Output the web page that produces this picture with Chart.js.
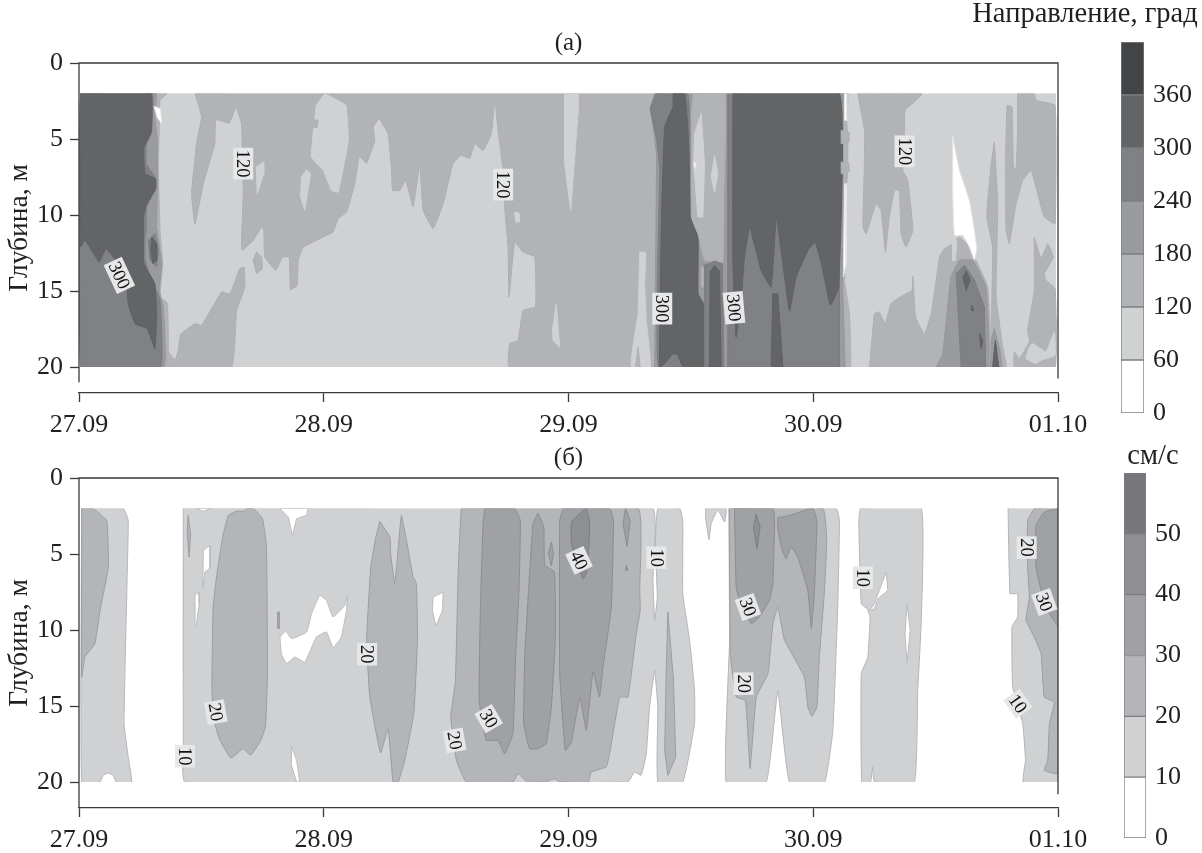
<!DOCTYPE html>
<html lang="ru">
<head>
<meta charset="utf-8">
<title>Направление и скорость течения</title>
<script src="https://cdn.jsdelivr.net/npm/chart.js@4/dist/chart.umd.min.js"></script>
<style>
  html, body { margin: 0; padding: 0; background: #fff; }
  body { position: relative; width: 1202px; height: 853px; overflow: hidden; }
  .box { position: absolute; }
</style>
</head>
<body>
<div class="box" style="left:0;top:0;width:1202px;height:445px"><canvas id="panelA"></canvas></div>
<div class="box" style="left:0;top:420px;width:1202px;height:433px"><canvas id="panelB"></canvas></div>
<div class="box" style="left:968px;top:0;width:234px;height:430px"><canvas id="barA"></canvas></div>
<div class="box" style="left:1104px;top:440px;width:98px;height:413px"><canvas id="barB"></canvas></div>
<script>
// Axis labels
const dayLabels = ['27.09', '28.09', '29.09', '30.09', '01.10'];
const panelTitles = ['(а)', '(б)'];

// Colour bar bands
const dirBands = [[0, 60], [60, 120], [120, 180], [180, 240], [240, 300], [300, 360], [360, 420]];
const speedBands = [[0, 10], [10, 20], [20, 30], [30, 40], [40, 50], [50, 60]];

// Contour regions, every point is [days since 27.09, depth in m]
// Panel (а), direction
const dirBase = [[0.007,2],[3.988,2],[3.988,20],[0.007,20]];
const dirLeft120 = [[0.361,2],[0.331,2.46],[0.328,4.43],[0.324,6.62],[0.331,11],[0.342,13.2],[0.331,15.4],[0.361,15.8],[0.365,18.9],[0.351,20],[0.007,20],[0.007,2]];
const dirLeft180 = [[0.317,2],[0.31,3.55],[0.32,5.09],[0.32,8.82],[0.317,11],[0.338,13.2],[0.328,14.96],[0.344,16.05],[0.347,20],[0.007,20],[0.007,2]];
const dirLeft240 = [[0.303,2],[0.297,4.43],[0.276,5.31],[0.274,6.62],[0.31,7.5],[0.31,8.38],[0.276,9.47],[0.274,13.2],[0.31,14.74],[0.331,15.6],[0.333,20],[0.007,20],[0.007,2]];
const dirLeft300 = [[0.007,2],[0.293,2],[0.294,4.65],[0.265,5.53],[0.269,7.28],[0.313,7.61],[0.313,8.27],[0.274,9.36],[0.263,10.13],[0.265,13.2],[0.31,14.52],[0.317,16.71],[0.31,18.79],[0.279,17.48],[0.229,17.15],[0.201,15.83],[0.195,14.52],[0.161,13.2],[0.11,12.21],[0.083,13.09],[0.052,12.32],[0.024,11.62],[0.007,12.1]];
const dirSpot180 = [[0.283,11],[0.317,10.9],[0.328,12.1],[0.324,13.64],[0.29,13.42],[0.274,12.98],[0.274,11.45]];
const dirSpot240 = [[0.283,11.67],[0.31,11.23],[0.324,12.32],[0.317,13.42],[0.29,12.98]];
const dirSpot300 = [[0.297,11.45],[0.317,11.89],[0.317,12.98],[0.301,13.2],[0.293,12.32]];
const dirGap1 = [[0.306,2.85],[0.333,3],[0.338,3.99],[0.32,3.6]];

const dirMain120 = [[0.474,2],[0.501,3.55],[0.48,5.31],[0.46,8.6],[0.474,10.61],[0.508,7.94],[0.555,5.31],[0.559,3.73],[0.614,3.95],[0.641,2.89],[0.664,3.99],[0.671,8.38],[0.664,11.89],[0.667,12.32],[0.712,11.67],[0.746,10.79],[0.755,11.01],[0.759,12.76],[0.804,13.64],[0.832,12.76],[0.859,12.76],[0.864,14.91],[0.891,14.63],[0.896,12.98],[0.916,12.11],[1.038,11.12],[1.059,10.24],[1.093,9.8],[1.127,7.94],[1.145,6.14],[1.175,6.58],[1.209,5.09],[1.202,4.21],[1.226,3.66],[1.263,4.65],[1.277,7.06],[1.281,8.38],[1.311,8.38],[1.335,7.72],[1.365,9.47],[1.392,6.73],[1.406,9.69],[1.447,10.9],[1.488,9.25],[1.528,6.62],[1.562,6.07],[1.596,6.29],[1.617,5.31],[1.651,5.75],[1.685,4.65],[1.699,2.35],[1.712,4.43],[1.733,7.06],[1.739,9.47],[1.753,12.11],[1.757,15.39],[1.78,11.78],[1.814,12.43],[1.862,12.76],[1.865,16.05],[1.814,16.27],[1.794,18.25],[1.76,18.46],[1.757,20],[2.359,20],[2.359,2]];
const dirIsle1 = [[1.004,2.02],[0.97,2.79],[0.95,6.18],[0.998,7.06],[1.032,8.38],[1.059,8.49],[1.1,5.09],[1.09,2.79],[1.018,2.13]];
const dirIsle2 = [[0.93,7.02],[0.946,7.28],[0.923,9.69],[0.905,8.82],[0.909,7.5]];
const dirIsle3 = [[0.725,6.84],[0.753,6.51],[0.755,7.28],[0.728,8.6]];
const dirIsle4 = [[1.984,2],[2.039,2],[2.039,3.33],[2.009,9.69],[1.984,6.62]];
const dirIsle5 = [[1.78,9.8],[1.801,9.91],[1.798,10.46],[1.784,10.46]];
const dirIsle6 = [[1.95,15.83],[1.964,18.68],[1.937,18.25],[1.934,17.59]];
const dirIsle7 = [[2.291,12.43],[2.315,12.5],[2.311,14.52],[2.318,16.93],[2.334,20],[2.257,20],[2.263,18.68],[2.284,16.49]];
const dirNick1 = [[2.274,20],[2.284,18.68],[2.293,20]];
const dirNick2 = [[0.95,3.73],[0.977,3.77],[0.973,4.25],[0.954,4.21]];
const dirLow120 = [[0.351,20],[0.365,19.01],[0.392,19.56],[0.406,18.9],[0.415,17.85],[0.474,17.15],[0.501,17.26],[0.583,15.07],[0.617,15.18],[0.657,13.53],[0.674,13.42],[0.678,14.74],[0.644,16.27],[0.623,20]];
const dirBlob120 = [[0.712,12.98],[0.725,12.43],[0.746,12.76],[0.75,13.53],[0.725,13.86]];

const dirMid180 = [[2.352,20],[2.36,6],[2.336,2.89],[2.352,2],[2.651,2],[2.651,20]];
const dirMid240 = [[2.359,2],[2.488,2],[2.502,10.35],[2.529,11.45],[2.529,15.18],[2.563,16.05],[2.57,20],[2.367,20],[2.373,7],[2.36,5],[2.334,3]];
const dirMid300 = [[2.427,2],[2.474,2],[2.488,4.43],[2.502,10.35],[2.529,11.45],[2.529,15.18],[2.556,16.05],[2.556,20],[2.468,20],[2.447,19.23],[2.427,19.12],[2.393,19.78],[2.372,20],[2.379,11.01],[2.393,4.21],[2.427,2.89]];
const dirMidTop120 = [[2.511,2],[2.638,2],[2.635,8.82],[2.631,13.09],[2.597,13.09],[2.556,12.98],[2.529,11.23],[2.502,10.13],[2.502,3.33]];
const dirMidIsle1 = [[2.542,3.33],[2.556,6.62],[2.549,10.13],[2.529,10.13],[2.511,6.62],[2.515,4.65]];
const dirMidGap = [[2.511,6.51],[2.522,6.62],[2.517,6.95]];
const dirMidIsle2 = [[2.597,6.07],[2.61,7.28],[2.597,8.49],[2.583,7.5]];
const dirMidNick = [[2.542,13.42],[2.553,13.46],[2.553,14.74],[2.542,14.74]];
const dirTongue240 = [[2.556,13.31],[2.597,13.03],[2.628,13.2],[2.635,20],[2.556,20]];
const dirTongue300 = [[2.579,13.75],[2.597,13.31],[2.617,13.68],[2.624,20],[2.576,20]];

const dirBlock240 = [[2.651,2],[3.107,2],[3.107,20],[2.651,20]];
const dirRim120 = [[3.107,2],[3.141,2],[3.137,3.77],[3.141,4.87],[3.141,7.06],[3.137,7.94],[3.128,14.3],[3.148,16.49],[3.152,20],[3.107,20]];
const dirRim180 = [[3.107,2],[3.122,2],[3.12,14.5],[3.13,20],[3.107,20]];
const dirBlock300 = [[2.672,2],[3.107,2],[3.104,14.74],[3.07,15.94],[3.039,13.64],[3.009,11.78],[2.978,12.32],[2.93,14.08],[2.903,16.32],[2.883,14.08],[2.849,10.13],[2.828,14.74],[2.787,13.64],[2.74,10.79],[2.719,12.76],[2.706,15.39],[2.685,18.03],[2.672,13.2]];
const dirStrip300 = [[2.835,15.18],[2.855,15.18],[2.876,20],[2.828,20]];
const dirRing1 = [[3.114,4.43],[3.145,4.54],[3.145,5.2],[3.114,5.31]];
const dirRing2 = [[3.114,6.51],[3.145,6.62],[3.145,7.17],[3.114,7.28]];
const dirGap2 = [[3.128,2],[3.137,2],[3.137,3.77],[3.128,3.77]];
const dirGap3 = [[3.128,7.94],[3.137,7.94],[3.134,13.2],[3.123,14.08]];

const dirUpper120 = [[3.182,2],[3.445,2],[3.42,2.46],[3.375,3.11],[3.373,4.43],[3.366,7.06],[3.386,7.72],[3.407,11.01],[3.379,12.11],[3.359,11.23],[3.352,8.38],[3.332,8.38],[3.311,10.13],[3.295,12.43],[3.277,9.69],[3.257,9.25],[3.216,11.23],[3.203,10.79],[3.209,6.62],[3.209,4.43]];
const dirRight120 = [[3.835,2],[3.903,2],[3.91,2.46],[3.988,2.79],[3.988,10.57],[3.944,10.13],[3.924,9.04],[3.89,7.06],[3.856,7.72],[3.829,9.25],[3.801,11.89],[3.788,11.01],[3.785,7.06],[3.792,2.79],[3.812,2.89],[3.818,6.95],[3.829,6.95],[3.835,4.43]];
const dirThin120 = [[3.74,5.2],[3.754,9.25],[3.747,15.39],[3.774,18.68],[3.788,20],[3.72,20],[3.727,17.59],[3.733,12.11],[3.709,10.13],[3.727,6.62]];
const dirThin180 = [[3.74,17.48],[3.763,18.9],[3.771,20],[3.72,20],[3.727,18.25]];
const dirThin300 = [[3.744,18.25],[3.758,20],[3.733,20]];
const dirLowR120 = [[3.23,20],[3.25,16.49],[3.27,16.38],[3.294,17.15],[3.318,15.83],[3.366,15.29],[3.403,14.96],[3.407,14.04],[3.418,16.71],[3.454,17.85],[3.482,16.49],[3.516,12.76],[3.536,12.21],[3.57,11.89],[3.597,11.45],[3.638,12.11],[3.713,14.74],[3.713,20]];
const dirLowR180 = [[3.502,20],[3.529,19.12],[3.563,14.08],[3.597,12.98],[3.652,12.98],[3.706,14.74],[3.713,20]];
const dirLowR240 = [[3.584,13.86],[3.618,13.31],[3.659,14.3],[3.699,16.05],[3.704,20],[3.604,20]];
const dirLowR300a = [[3.611,14.08],[3.625,13.68],[3.641,14.3],[3.625,14.96]];
const dirLowR300b = [[3.679,17.81],[3.692,18.25],[3.686,18.79]];
const dirLowR300c = [[3.648,15.94],[3.656,16.27],[3.645,16.27]];
const dirGap4 = [[3.57,4.82],[3.597,7.06],[3.638,9.04],[3.668,12.11],[3.659,12.98],[3.638,12.11],[3.611,11.34],[3.577,11.34],[3.57,8.82]];
const dirLobe = [[3.57,12.98],[3.581,12.98],[3.586,11.67],[3.57,11.56]];
const dirCorner120 = [[3.903,11.45],[3.931,12.87],[3.958,11.89],[3.981,12.76],[3.944,13.86],[3.951,14.3],[3.988,14.85],[3.988,20],[3.822,20],[3.822,19.01],[3.842,19.45],[3.883,18.35],[3.876,17.59],[3.903,14.96],[3.903,13.2]];
const dirCornerIsle = [[3.883,18.68],[3.897,18.46],[3.951,19.01],[3.985,17.7],[3.988,19.23],[3.931,19.56],[3.91,19.78],[3.869,19.45]];

// Panel (б), speed
const spdA10 = [[0.011,2],[0.181,2],[0.201,2.79],[0.197,6.29],[0.184,16.16],[0.201,18.36],[0.215,20],[0.151,20],[0.14,19.56],[0.12,19.41],[0.099,19.56],[0.086,20],[0.011,20]];
const spdA20 = [[0.011,2],[0.056,2],[0.113,2.79],[0.12,5.86],[0.086,8.71],[0.065,10.9],[0.024,11.78],[0.011,13.09]];
const spdB10 = [[0.426,2],[2.345,2],[2.355,3.22],[2.345,6.73],[2.352,9.36],[2.363,7.83],[2.355,4.54],[2.365,2],[2.454,2],[2.467,2.79],[2.467,7.61],[2.495,10.68],[2.515,13.97],[2.515,16.16],[2.467,20],[2.365,20],[2.365,15.07],[2.352,12.65],[2.331,15.07],[2.318,18.14],[2.297,19.56],[2.27,19.34],[2.243,20],[0.433,20],[0.426,17.26]];
const spdHole1 = [[0.478,2],[0.508,2.19],[0.542,2]];
const spdHole2 = [[0.821,2],[0.855,2.57],[0.872,3.77],[0.889,2.68],[0.93,2.46],[0.936,2]];
const spdHole3 = [[0.508,4.76],[0.535,4.43],[0.535,5.96],[0.514,6.18],[0.505,7.28]];
const spdHole4 = [[0.474,7.72],[0.491,7.5],[0.491,8.27],[0.478,9.8]];
const spdHole5 = [[0.821,10.46],[0.845,10.07],[0.868,10.57],[0.93,10.13],[0.95,8.93],[0.984,7.72],[1.011,8.05],[1.038,9.14],[1.086,8.38],[1.096,7.72],[1.093,8.71],[1.072,10.46],[1.038,11.16],[1.011,10.13],[0.97,10.46],[0.923,12.11],[0.882,11.78],[0.848,12.21],[0.827,11.56]];
const spdHole6 = [[0.868,17.65],[0.889,18.57],[0.902,20],[0.889,20],[0.868,18.9]];
const spdHole7 = [[1.447,7.83],[1.488,7.5],[1.485,8.71],[1.458,9.76],[1.444,8.71]];
const spdThin1 = [[0.446,2.46],[0.456,3.66],[0.45,5.2],[0.442,3.66]];
const spdThin2 = [[0.811,8.82],[0.818,8.82],[0.818,9.91],[0.811,9.91]];
const spdOval20 = [[0.687,2],[0.712,2],[0.75,2.68],[0.766,4.54],[0.77,12.87],[0.762,16.38],[0.739,17.37],[0.701,18.25],[0.671,17.81],[0.621,18.42],[0.576,17.26],[0.555,16.16],[0.543,13.97],[0.548,8.49],[0.562,6.51],[0.587,3.88],[0.61,2.46],[0.644,2.17],[0.671,2.19]];
const spdSecond20 = [[1.229,2.85],[1.27,3.88],[1.274,5.09],[1.29,6.95],[1.3,5.42],[1.317,2.46],[1.338,4.1],[1.365,6.51],[1.379,6.95],[1.383,10.68],[1.368,15.5],[1.331,18.57],[1.304,20],[1.283,20],[1.263,16.49],[1.232,18.09],[1.188,14.41],[1.175,10.68],[1.192,5.86],[1.213,3.88]];
const spdBig20 = [[1.562,2],[2.284,2],[2.291,7.39],[2.293,8.71],[2.277,10.24],[2.243,14.41],[2.209,14.41],[2.168,18.14],[2.154,19.01],[2.093,19.34],[2.08,20],[1.964,20],[1.943,19.78],[1.903,20],[1.832,20],[1.794,19.45],[1.773,20],[1.583,20],[1.542,18.57],[1.519,15.72],[1.538,13.31],[1.549,6.29],[1.556,3.66]];
const spdCore1 = [[1.658,2],[1.78,2],[1.803,2.79],[1.798,7.39],[1.784,11.78],[1.773,16.82],[1.739,18.14],[1.712,17.26],[1.664,17.26],[1.635,14.63],[1.64,8.49],[1.651,3]];
const spdCore2 = [[1.875,2.3],[1.899,3.22],[1.903,5.75],[1.943,6.18],[1.946,10.68],[1.93,15.07],[1.909,17.48],[1.875,17.81],[1.841,17.81],[1.817,16.16],[1.821,11.78],[1.841,6.29],[1.855,3]];
const spdCore3 = [[1.978,2],[2.168,2],[2.184,2.79],[2.175,8.49],[2.141,12.43],[2.127,14.41],[2.1,12.76],[2.073,16.6],[2.046,14.41],[2.012,17.37],[1.987,17.92],[1.964,12.87],[1.964,2.79]];
const spdPeak40 = [[2.073,2],[2.086,2.79],[2.084,4.43],[2.073,6.29],[2.059,6.62],[2.012,4.32],[2.012,2.89],[2.052,2.24]];
const spdDot1 = [[1.93,4.21],[1.939,4.98],[1.93,5.75],[1.918,4.98]];
const spdDot2 = [[2.233,2],[2.252,2.79],[2.239,4.5],[2.223,3]];
const spdDot3 = [[2.236,5.75],[2.243,6.07],[2.233,6.07]];
const spdThin3 = [[2.406,8.82],[2.429,13.31],[2.438,18.36],[2.406,19.56],[2.393,17.92],[2.399,12.87]];
const spdCap10 = [[2.56,2],[2.644,2],[2.638,2.89],[2.61,2.08],[2.583,3],[2.574,4.06],[2.56,2.57]];
const spdC10 = [[2.655,2],[3.094,2],[3.107,2.79],[3.1,8.49],[3.08,16.6],[3.046,20],[2.903,20],[2.855,13.97],[2.808,20],[2.644,20],[2.658,10.68]];
const spdC20 = [[2.658,2],[3.039,2],[3.055,4.1],[3.046,7.39],[3.025,11.78],[3.015,15.07],[2.994,15.68],[2.978,15.07],[2.964,13.09],[2.883,10.68],[2.855,8.49],[2.835,9.58],[2.815,12.87],[2.767,14.41],[2.742,19.12],[2.723,14.63],[2.685,14.41],[2.661,11.56]];
const spdC30a = [[2.678,2],[2.835,2],[2.842,2.79],[2.835,6.95],[2.821,8.05],[2.78,9.14],[2.747,9.58],[2.699,8.05],[2.685,7.17]];
const spdC30b = [[2.855,2.61],[2.903,2.46],[2.998,2],[3.015,2.79],[3.005,7.39],[2.992,9.91],[2.978,7.39],[2.937,5.2],[2.91,4.54],[2.889,5.31],[2.869,4.54],[2.855,3.22]];
const spdC40 = [[2.767,2.39],[2.783,3.22],[2.77,4.65],[2.756,3.22]];
const spdD10 = [[3.192,2],[3.441,2],[3.441,9.58],[3.427,13.97],[3.413,20],[3.25,20],[3.243,19.01],[3.234,20],[3.198,20],[3.196,12.87],[3.223,11.78],[3.232,9.14],[3.22,8.6],[3.196,8.27],[3.186,2.79]];
const spdHole8 = [[3.25,8.27],[3.298,6.18],[3.305,7.39],[3.264,7.94],[3.25,8.6],[3.23,8.71]];
const spdHole9 = [[3.383,8.27],[3.396,10.02],[3.383,12.17],[3.375,10.24]];
const spdE10 = [[3.796,2],[3.999,2],[3.999,20],[3.858,20],[3.867,18.57],[3.856,16.16],[3.815,13.75],[3.812,9.8],[3.835,9.14],[3.835,7.61],[3.804,7.61]];
const spdE20 = [[3.903,2],[3.999,2],[3.999,19.45],[3.944,19.23],[3.958,18.57],[3.965,16.16],[3.985,14.74],[3.944,14.41],[3.931,11.56],[3.903,10.46],[3.869,9.36],[3.883,7.83],[3.876,5.86],[3.876,2.79]];
const spdE30 = [[3.999,2.02],[3.944,2.24],[3.91,3.11],[3.91,5.86],[3.931,7.39],[3.965,8.93],[3.999,9.69]];

// Contour labels: [text, day, depth, turn in degrees]
const dirLabels = [['300',0.165,13.97,65],['120',0.671,6.62,90],['120',1.733,8,90],['300',2.383,16.16,90],['300',2.676,16.1,85],['120',3.373,5.81,90]];
const speedLabels = [['10',0.433,18.3,90],['20',0.559,15.4,80],['20',1.177,11.6,90],['20',1.535,17.26,80],['30',1.674,15.83,60],['40',2.043,5.42,65],['10',2.359,5.24,90],['30',2.733,8.49,70],['20',2.715,13.53,90],['10',3.203,6.56,90],['20',3.872,4.58,90],['30',3.944,8.16,70],['10',3.836,14.85,55]];

const INK = '#3a3a3c';
const TEXT = '#231f20';
const SERIF = '"Liberation Serif", serif';

// fill and contour colours per level
const dirFill = { w: '#ffffff', 60: '#d0d1d3', 120: '#b2b3b6', 180: '#9a9b9e', 240: '#808184', 300: '#636466', 360: '#434446' };
const dirLine = { w: '#e4e5e6', 60: '#d0d1d3', 120: '#aeafb2', 180: '#96979a', 240: '#7c7d80', 300: '#5f6062', 360: '#404143' };
const spdFill = { w: '#ffffff', 10: '#d0d1d3', 20: '#b4b5b8', 30: '#a0a1a4', 40: '#8e8f92', 50: '#77787b' };
const spdLine = { w: '#bcbdbf', 10: '#b4b5b8', 20: '#9c9da0', 30: '#8c8d90', 40: '#7c7d80', 50: '#66676a' };

// painted in this order, later ones on top
const dirLayers = [
    [dirBase, 60], [dirLeft120, 120], [dirLeft180, 180], [dirLeft240, 240], [dirLeft300, 300],
    [dirSpot180, 180], [dirSpot240, 240], [dirSpot300, 300], [dirGap1, 'w'],
    [dirMain120, 120], [dirIsle1, 60], [dirIsle2, 60], [dirIsle3, 60], [dirIsle4, 60], [dirIsle5, 60], [dirIsle6, 60], [dirIsle7, 60],
    [dirNick1, 120], [dirNick2, 120], [dirLow120, 120], [dirBlob120, 120],
    [dirMid180, 180], [dirMid240, 240], [dirMid300, 300], [dirMidTop120, 120], [dirMidIsle1, 60], [dirMidGap, 'w'], [dirMidIsle2, 60], [dirMidNick, 120],
    [dirTongue240, 240], [dirTongue300, 300],
    [dirRim120, 120], [dirRim180, 180], [dirBlock240, 240], [dirBlock300, 300], [dirStrip300, 300], [dirRing1, 120], [dirRing2, 120], [dirGap2, 'w'], [dirGap3, 'w'],
    [dirUpper120, 120], [dirRight120, 120], [dirThin120, 120], [dirThin180, 180], [dirThin300, 300],
    [dirLowR120, 120], [dirLowR180, 180], [dirLowR240, 240], [dirLowR300a, 300], [dirLowR300b, 300], [dirLowR300c, 300], [dirGap4, 'w'], [dirLobe, 60],
    [dirCorner120, 120], [dirCornerIsle, 60]
];
const speedLayers = [
    [spdA10, 10], [spdA20, 20], [spdB10, 10], [spdHole1, 'w'], [spdHole2, 'w'], [spdHole3, 'w'], [spdHole4, 'w'], [spdHole5, 'w'], [spdHole6, 'w'], [spdHole7, 'w'],
    [spdThin1, 20], [spdThin2, 20], [spdOval20, 20], [spdSecond20, 20], [spdBig20, 20], [spdCore1, 30], [spdCore2, 30], [spdCore3, 30], [spdPeak40, 40],
    [spdDot1, 30], [spdDot2, 30], [spdDot3, 30], [spdThin3, 20], [spdCap10, 10],
    [spdC10, 10], [spdC20, 20], [spdC30a, 30], [spdC30b, 30], [spdC40, 40],
    [spdD10, 10], [spdHole8, 'w'], [spdHole9, 'w'], [spdE10, 10], [spdE20, 20], [spdE30, 30]
];

// top and side lines of the frame, in axis units
const dirFrame = [[0, 21], [0, 0], [4, 0], [4, 20.75]];
const speedFrame = [[0, 21.71], [0, 0], [4, 0], [4, 20.8]];

function toPoints(list) {
    return list.map(p => ({ x: p[0], y: p[1] }));
}

function regionDataset(poly, fill, line) {
    const pts = toPoints(poly);
    pts.push(pts[0]);
    return {
        data: pts,
        showLine: true,
        fill: 'shape',
        backgroundColor: fill,
        borderColor: line,
        borderWidth: 1,
        pointRadius: 0,
        // plain boxes stay straight, the rest gets a slight curve
        tension: poly.length > 6 ? 0.1 : 0,
        clip: false
    };
}

// keeps the curved regions inside the measured depths (2 to 20 m)
const depthClip = {
    id: 'depthClip',
    beforeDatasetsDraw(chart) {
        const { x, y } = chart.scales;
        const c = chart.ctx;
        c.save();
        c.beginPath();
        c.rect(x.left, y.getPixelForValue(2), x.width, y.getPixelForValue(20) - y.getPixelForValue(2));
        c.clip();
    },
    beforeDatasetDraw(chart, args) {
        // the frame is dataset 0 and is painted last
        if (args.index === 0) chart.ctx.restore();
    }
};

// text of the contour lines, on its pale box
const contourLabels = {
    id: 'contourLabels',
    afterDatasetsDraw(chart, args, opts) {
        const c = chart.ctx;
        opts.items.forEach(item => {
            const x = chart.scales.x.getPixelForValue(item[1]);
            const y = chart.scales.y.getPixelForValue(item[2]);
            c.save();
            c.translate(x, y);
            c.rotate(item[3] * Math.PI / 180);
            c.font = '18.5px ' + SERIF;
            const w = c.measureText(item[0]).width + 4;
            c.fillStyle = '#e6e7e8';
            c.fillRect(-w / 2, -10, w, 20);
            c.fillStyle = '#111';
            c.textAlign = 'center';
            c.textBaseline = 'middle';
            c.fillText(item[0], 0, 1);
            c.restore();
        });
    }
};

function makePanel(id, layers, fills, lines, frame, labels, title, titleTop, xHeight) {
    const sets = layers.map(l => regionDataset(l[0], fills[l[1]], lines[l[1]]));
    sets.push({
        data: toPoints(frame),
        showLine: true,
        fill: false,
        borderColor: INK,
        borderWidth: 1.3,
        pointRadius: 0,
        clip: false
    });
    // Chart.js paints the first dataset last
    sets.reverse();
    return new Chart(document.getElementById(id), {
        type: 'scatter',
        data: { datasets: sets },
        plugins: [depthClip, contourLabels],
        options: {
            responsive: true,
            maintainAspectRatio: false,
            animation: false,
            events: [],
            layout: { padding: { right: 144, left: 0, top: 0, bottom: 0 } },
            plugins: {
                legend: { display: false },
                tooltip: { enabled: false },
                title: {
                    display: true,
                    text: title,
                    fullSize: false,
                    color: TEXT,
                    font: { family: SERIF, size: 25, weight: 'normal', lineHeight: 1.2 },
                    padding: { top: titleTop, bottom: 5 }
                },
                contourLabels: { items: labels }
            },
            scales: {
                x: {
                    type: 'linear',
                    min: 0,
                    max: 4,
                    border: { display: true, color: INK, width: 1.3 },
                    grid: { drawOnChartArea: false, color: INK, tickLength: 9, tickWidth: 1.3 },
                    ticks: {
                        stepSize: 1,
                        maxRotation: 0,
                        padding: 8,
                        color: TEXT,
                        font: { family: SERIF, size: 26 },
                        callback: value => dayLabels[value]
                    },
                    afterFit: s => { s.height = xHeight; }
                },
                y: {
                    type: 'linear',
                    reverse: true,
                    min: 0,
                    max: 21.71,
                    border: { display: false },
                    grid: { drawOnChartArea: false, color: INK, tickLength: 9, tickWidth: 1.3 },
                    title: {
                        display: true,
                        text: 'Глубина, м',
                        color: TEXT,
                        font: { family: SERIF, size: 27.5 },
                        padding: { top: 3, bottom: 0 }
                    },
                    ticks: {
                        stepSize: 5,
                        includeBounds: false,
                        padding: 7,
                        color: TEXT,
                        font: { family: SERIF, size: 26 }
                    },
                    afterFit: s => { s.width = 79; }
                }
            }
        }
    });
}

function makeBar(id, bands, fills, maxValue, step, title, titlePad, pad, leftWidth, axisWidth) {
    const keys = Object.keys(fills).filter(k => k !== 'w').map(Number).sort((a, b) => a - b);
    const colours = ['#ffffff'].concat(keys.map(k => fills[k]));
    return new Chart(document.getElementById(id), {
        type: 'bar',
        data: {
            labels: [''],
            datasets: bands.map((band, i) => ({
                data: [band],
                yAxisID: 'y',
                backgroundColor: colours[i],
                borderColor: '#7d7e81',
                borderWidth: 1,
                borderSkipped: false,
                grouped: false,
                barPercentage: 1,
                categoryPercentage: 1
            }))
        },
        options: {
            responsive: true,
            maintainAspectRatio: false,
            animation: false,
            events: [],
            layout: { padding: pad },
            plugins: {
                legend: { display: false },
                tooltip: { enabled: false },
                title: {
                    display: true,
                    text: title,
                    color: TEXT,
                    font: { family: SERIF, size: 28.5, weight: 'normal', lineHeight: 1 },
                    padding: titlePad
                }
            },
            scales: {
                x: { display: false },
                // empty axis that only pushes the bar to the right, so the title keeps the full width
                spacer: {
                    position: 'left',
                    min: 0,
                    max: 1,
                    border: { display: false },
                    grid: { display: false, drawTicks: false },
                    ticks: { display: false },
                    afterFit: s => { s.width = leftWidth; s.paddingTop = 0; s.paddingBottom = 0; }
                },
                y: {
                    position: 'right',
                    min: 0,
                    max: maxValue,
                    border: { display: false },
                    grid: { display: false, drawTicks: false },
                    ticks: {
                        stepSize: step,
                        padding: 9,
                        color: TEXT,
                        font: { family: SERIF, size: 26 },
                        callback: value => (value === maxValue ? '' : value)
                    },
                    afterFit: s => { s.width = axisWidth; s.paddingTop = 0; s.paddingBottom = 0; }
                }
            }
        }
    });
}

makePanel('panelA', dirLayers, dirFill, dirLine, dirFrame, dirLabels, panelTitles[0], 28, 52);
makePanel('panelB', speedLayers, spdFill, spdLine, speedFrame, speedLabels, panelTitles[1], 23, 45);
makeBar('barA', dirBands, dirFill, 420, 60, 'Направление, град', { top: 0, bottom: 13.5 }, { left: 0, right: 0, top: 0, bottom: 17 }, 153, 58);
makeBar('barB', speedBands, spdFill, 60, 10, 'см/с', { top: 2, bottom: 2.5 }, { left: 0, right: 0, top: 0, bottom: 15 }, 20, 56);
</script>
</body>
</html>
